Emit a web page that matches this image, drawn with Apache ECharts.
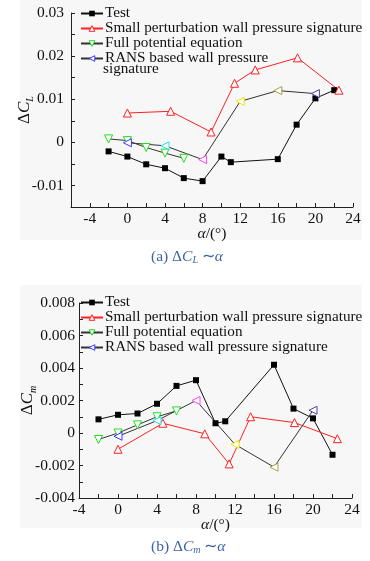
<!DOCTYPE html>
<html>
<head>
<meta charset="utf-8">
<script src="https://cdn.jsdelivr.net/npm/echarts@6/dist/echarts.min.js"></script>
<style>
html, body { margin: 0; padding: 0; background: #fff; }
#main { width: 370px; height: 561px; }
</style>
</head>
<body>
<div id="main"></div>
<script>
var FONT = '"Liberation Serif", "Times New Roman", serif';

// angle of attack for each series
var testAlpha = [-2, 0, 2, 4, 6, 8, 10, 11, 16, 18, 20, 22];
var spAlpha = [0, 4.6, 8.9, 11.4, 13.6, 18.1, 22.5];
var fpAlpha = [-2, 0, 2, 4, 6];
var ransAlpha = [0, 4, 8, 12, 16, 20];

// (a) delta CL
var testCL = [-0.0021, -0.0033, -0.0051, -0.006, -0.0083, -0.009, -0.0033, -0.0046, -0.0039, 0.0041, 0.0102, 0.0121];
var spCL = [0.0068, 0.0072, 0.0024, 0.0137, 0.0168, 0.0196, 0.0121];
var fpCL = [0.0008, 0.0004, -0.0012, -0.0025, -0.0037];
var ransCL = [-0.0001, -0.0008, -0.004, 0.0095, 0.012, 0.0113];

// (b) delta Cm
var testCm = [0.00084, 0.00112, 0.0012, 0.0018, 0.0029, 0.00325, 0.0006, 0.00072, 0.0042, 0.0015, 0.0009, -0.00134];
var spCm = [-0.001, 0.0006, -0.00005, -0.0019, 0.001, 0.00064, -0.00035];
var fpCm = [-0.0004, 0.0000, 0.0005, 0.001, 0.00136];
var ransCm = [-0.0002, 0.00076, 0.002, -0.0007, -0.0021, 0.0014];

// origin colours each RANS point differently
var ransColors = ['#3b3bff', '#22e0f0', '#ff44ff', '#e8e800', '#a3a350', '#4646b0'];

var names = ['Test', 'Small perturbation wall pressure signature', 'Full potential equation', 'RANS based wall pressure signature'];
var markColors = ['#000', '#ff2020', '#22dd22', '#3b3bff'];

function pairs(xs, ys) {
    return xs.map(function (x, i) { return [x, ys[i]]; });
}

// hollow marker: white fill, coloured 1px edge
function hollow(c) {
    return { color: '#fff', borderColor: c, borderWidth: 1 };
}

function ransData(ys) {
    return ransAlpha.map(function (x, i) {
        return { value: [x, ys[i]], itemStyle: hollow(ransColors[i]) };
    });
}

function makeSeries(idx, test, sp, fp, rans) {
    return [
        {
            name: names[0], type: 'line', xAxisIndex: idx, yAxisIndex: idx,
            data: pairs(testAlpha, test), symbol: 'rect', symbolSize: 6,
            lineStyle: { color: '#111', width: 1 }, itemStyle: { color: '#000' }
        },
        {
            name: names[1], type: 'line', xAxisIndex: idx, yAxisIndex: idx,
            data: pairs(spAlpha, sp), symbol: 'triangle', symbolSize: 8,
            lineStyle: { color: '#ff2020', width: 1 }, itemStyle: hollow(markColors[1])
        },
        {
            name: names[2], type: 'line', xAxisIndex: idx, yAxisIndex: idx,
            data: pairs(fpAlpha, fp), symbol: 'triangle', symbolSize: 8, symbolRotate: 180,
            lineStyle: { color: '#333', width: 1 }, itemStyle: hollow(markColors[2])
        },
        {
            name: names[3], type: 'line', xAxisIndex: idx, yAxisIndex: idx,
            data: ransData(rans), symbol: 'triangle', symbolSize: 8, symbolRotate: 90,
            lineStyle: { color: '#333', width: 1 }, itemStyle: hollow(markColors[3])
        }
    ];
}

function xAxisOf(idx, min) {
    return {
        gridIndex: idx, type: 'value', min: min, max: 24, interval: 2,
        name: '{i|α}/(°)', nameLocation: 'middle', nameGap: 19, nameMoveOverlap: false,
        nameTextStyle: { fontFamily: FONT, fontSize: 15.5, color: '#111', rich: { i: { fontFamily: FONT, fontSize: 15.5, fontStyle: 'italic', color: '#111' } } },
        axisLine: { onZero: false, lineStyle: { color: '#222', width: 1 } },
        axisTick: { inside: true, length: 4, lineStyle: { color: '#222' } },
        splitLine: { show: false },
        axisLabel: {
            fontFamily: FONT, fontSize: 15.5, color: '#111', margin: 4,
            formatter: function (v) { return (Math.round(v) % 4 === 0) ? String(Math.round(v)) : ''; }
        }
    };
}

function yAxisOf(idx, min, max, step, labelStep, digits, sub, gap, margin) {
    return {
        gridIndex: idx, type: 'value', min: min, max: max, interval: step,
        name: '{d|Δ}{c|C}{s|' + sub + '}', nameLocation: 'middle', nameRotate: 90, nameGap: gap,
        nameMoveOverlap: false,
        nameTextStyle: {
            rich: {
                d: { fontFamily: FONT, fontSize: 17, color: '#111', lineHeight: 20, verticalAlign: 'middle' },
                c: { fontFamily: FONT, fontSize: 17, fontStyle: 'italic', color: '#111', lineHeight: 20, verticalAlign: 'middle' },
                s: { fontFamily: FONT, fontSize: 10, fontStyle: 'italic', color: '#111', lineHeight: 10, verticalAlign: 'bottom' }
            }
        },
        axisLine: { show: true, onZero: false, lineStyle: { color: '#222', width: 1 } },
        axisTick: { show: true, inside: true, length: 4, lineStyle: { color: '#222' } },
        splitLine: { show: false },
        axisLabel: {
            fontFamily: FONT, fontSize: 15.5, color: '#111', margin: margin,
            formatter: function (v) {
                var k = Math.round(v / step);
                if (k % labelStep !== 0) return '';
                if (Math.abs(v) < 1e-9) return '0';
                return v.toFixed(digits);
            }
        }
    };
}

function legendOf(top, rowH, labels) {
    return {
        orient: 'vertical', left: 80, top: top, padding: 0, itemWidth: 22, itemHeight: 7, itemGap: 0,
        data: names.map(function (n, i) {
            return { name: n, itemStyle: i === 0 ? { color: '#000' } : hollow(markColors[i]) };
        }),
        formatter: function (n) { return labels[n] || n; },
        textStyle: { fontFamily: FONT, fontSize: 15.2, color: '#111', lineHeight: rowH, padding: [0, 0, 0, -3] }
    };
}

var captionRich = {
    n: { fontFamily: FONT, fontSize: 15.5, fill: '#3f63a0' },
    i: { fontFamily: FONT, fontSize: 15.5, fontStyle: 'italic', fill: '#3f63a0' },
    s: { fontFamily: FONT, fontSize: 10, fontStyle: 'italic', fill: '#3f63a0', verticalAlign: 'bottom', lineHeight: 10 }
};

var chart = echarts.init(document.getElementById('main'), null, { renderer: 'canvas' });
chart.setOption({
    animation: false,
    backgroundColor: '#fff',
    grid: [
        { left: 71, top: 13, width: 282, height: 194 },
        { left: 79, top: 303, width: 273, height: 195 }
    ],
    xAxis: [xAxisOf(0, -6), xAxisOf(1, -4)],
    yAxis: [
        yAxisOf(0, -0.015, 0.03, 0.005, 2, 2, 'L', 36, 7),
        yAxisOf(1, -0.004, 0.008, 0.001, 2, 3, 'm', 41, 4)
    ],
    legend: [
        legendOf(6, 14.3, { 'RANS based wall pressure signature': 'RANS based wall pressure' }),
        legendOf(295, 15, {})
    ],
    graphic: [
        { type: 'rect', z: -10, shape: { x: 20, y: 0, width: 342, height: 240 }, style: { fill: '#f7f7f7' } },
        { type: 'rect', z: -10, shape: { x: 20, y: 285, width: 342, height: 243 }, style: { fill: '#f7f7f7' } },
        { type: 'text', left: 103, top: 62, style: { text: 'signature', font: '15.2px ' + FONT, fill: '#111' } },
        { type: 'text', left: 151, top: 249, style: { text: '{n|(a) Δ}{i|C}{s|L}{n| ∼}{i|α}', rich: captionRich } },
        { type: 'text', left: 151, top: 539, style: { text: '{n|(b) Δ}{i|C}{s|m}{n| ∼}{i|α}', rich: captionRich } }
    ],
    series: makeSeries(0, testCL, spCL, fpCL, ransCL).concat(makeSeries(1, testCm, spCm, fpCm, ransCm))
});
</script>
</body>
</html>
